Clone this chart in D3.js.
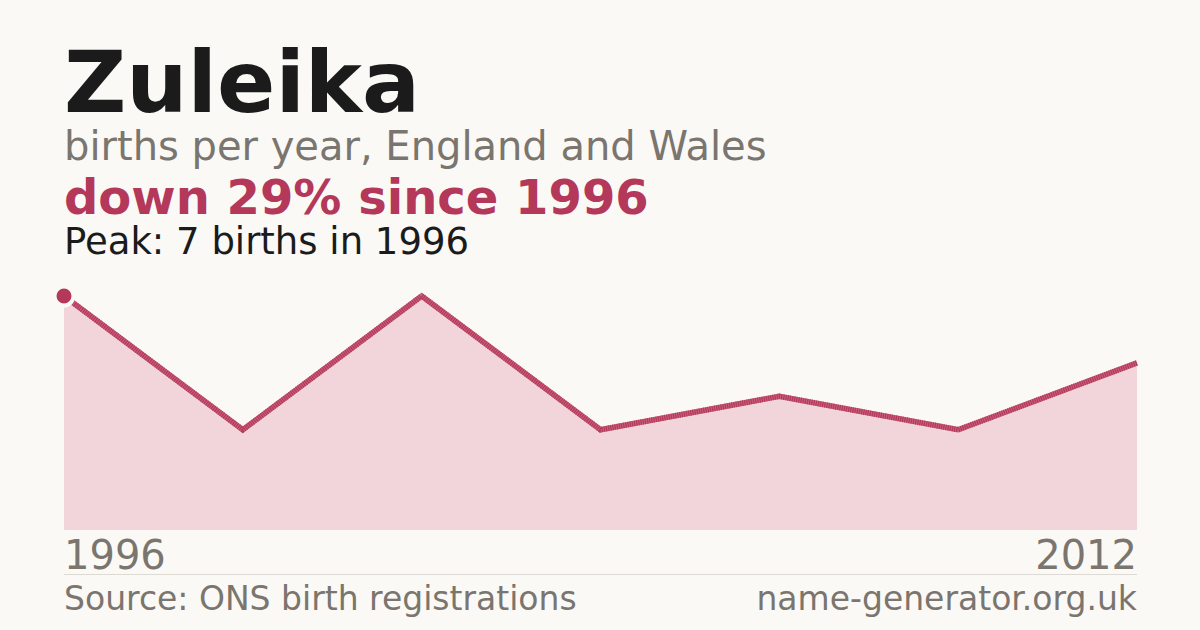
<!DOCTYPE html>
<html>
<head>
<meta charset="utf-8">
<script src="https://cdn.jsdelivr.net/npm/d3@7"></script>
<style>
  html, body { margin: 0; padding: 0; background: #faf9f5; }
  svg { display: block; font-family: "DejaVu Sans", sans-serif; }
</style>
</head>
<body>
<svg width="1200" height="630"></svg>
<script>
// data
const years = [1996, 1998, 2001, 2004, 2006, 2009, 2012];
const births = [7, 3, 7, 3, 4, 3, 5];
const tickYears = [1996, 2012];

const name = "Zuleika";
const subtitle = "births per year, England and Wales";
const change = "down 29% since 1996";
const peakNote = "Peak: 7 births in 1996";
const source = "Source: ONS birth registrations";
const site = "name-generator.org.uk";

const crimson = "#b3385a";
const grey = "#7a756e";

const svg = d3.select("svg");
const width = +svg.attr("width");

const margin = { left: 64, right: 63 };
const plotTop = 296, plotBottom = 530;

const data = years.map((y, i) => ({ year: y, value: births[i] }));

const x = d3
  .scalePoint()
  .domain(years)
  .range([margin.left, width - margin.right]);

const y = d3
  .scaleLinear()
  .domain([0, d3.max(births)])
  .range([plotBottom, plotTop]);

svg.append("rect").attr("width", width).attr("height", 630).attr("fill", "#faf9f5");

// headings
svg.append("text")
  .attr("x", 64).attr("y", 112)
  .attr("font-size", 86).attr("font-weight", "bold")
  .attr("fill", "#1b1b1b")
  .text(name);

svg.append("text")
  .attr("x", 64).attr("y", 160)
  .attr("font-size", 40)
  .attr("fill", grey)
  .text(subtitle);

svg.append("text")
  .attr("x", 64).attr("y", 214)
  .attr("font-size", 48).attr("font-weight", "bold")
  .attr("fill", crimson)
  .text(change);

svg.append("text")
  .attr("x", 64).attr("y", 254)
  .attr("font-size", 37)
  .attr("fill", "#1b1b1b")
  .text(peakNote);

// area + line
const area = d3.area()
  .x((d) => x(d.year))
  .y0(y(0))
  .y1((d) => y(d.value));

const line = d3.line()
  .x((d) => x(d.year))
  .y((d) => y(d.value));

svg.append("path")
  .datum(data)
  .attr("fill", "#f2d5da")
  .attr("d", area);

svg.append("path")
  .datum(data)
  .attr("fill", "none")
  .attr("stroke", "#c9607b")
  .attr("stroke-width", 5.5)
  .attr("d", line);

svg.append("path")
  .datum(data)
  .attr("fill", "none")
  .attr("stroke", crimson)
  .attr("stroke-width", 5.5)
  .attr("stroke-dasharray", "1.2 1")
  .attr("d", line);

// first point marker
svg.append("circle")
  .attr("cx", x(years[0]))
  .attr("cy", y(births[0]))
  .attr("r", 9.5)
  .attr("fill", crimson)
  .attr("stroke", "#faf9f5")
  .attr("stroke-width", 4);

// year labels
svg.selectAll("text.tick")
  .data(tickYears)
  .join("text")
  .attr("class", "tick")
  .attr("x", (d) => x(d))
  .attr("y", 569)
  .attr("font-size", 40)
  .attr("fill", grey)
  .attr("text-anchor", (d, i) => (i === 0 ? "start" : "end"))
  .text((d) => d);

svg.append("line")
  .attr("x1", margin.left).attr("x2", width - margin.right)
  .attr("y1", 574.5).attr("y2", 574.5)
  .attr("stroke", "#dddad3").attr("stroke-width", 1);

svg.append("text")
  .attr("x", 64).attr("y", 610)
  .attr("font-size", 33)
  .attr("fill", grey)
  .text(source);

svg.append("text")
  .attr("x", width - margin.right).attr("y", 610)
  .attr("font-size", 33)
  .attr("fill", grey)
  .attr("text-anchor", "end")
  .text(site);
</script>
</body>
</html>
